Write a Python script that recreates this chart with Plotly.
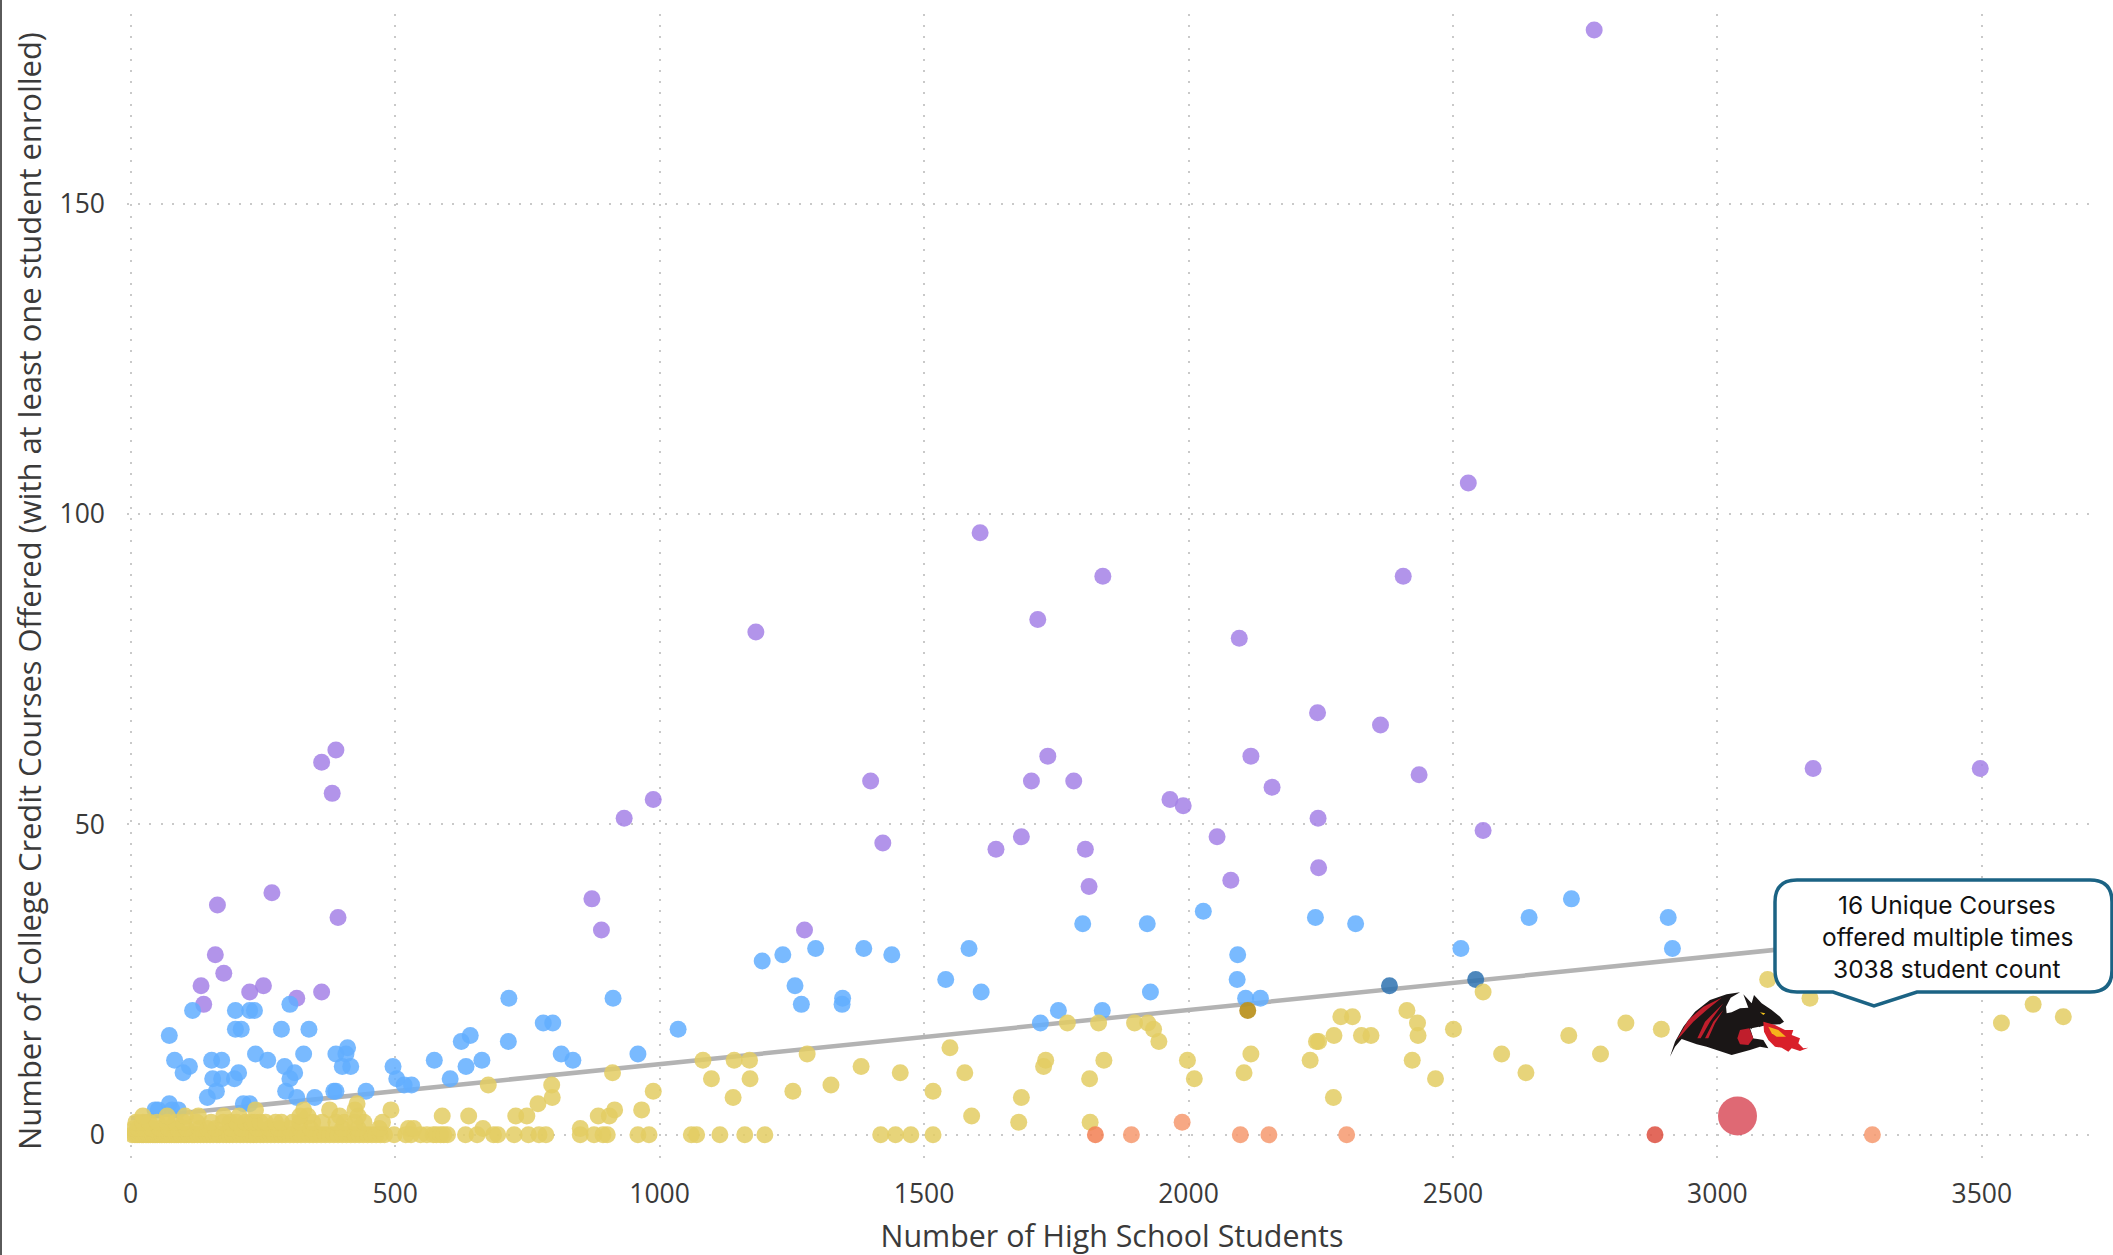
import plotly.graph_objects as go

# ---------- data ----------
purple_x = [2767,2529,1606,2406,1838,1715,1182,2096,2244,2363,1734,2118,388,361,381,3181,3497,933,988,1399,1703,1783,2436,2158,1965,1990,2245,1422,2557,2054,1684,1636,1805,2246,2080,1812,872,890,1274,164,267,392,160,176,133,251,225,361,314,138]
purple_y = [178,105,97,90,90,83,81,80,68,66,61,61,62,60,55,59,59,51,54,57,57,57,58,56,54,53,51,47,49,48,48,46,46,43,41,40,38,33,33,37,39,35,29,26,24,24,23,23,22,21]

blue_x = [117,198,225,234,301,73,198,209,285,337,83,111,99,153,172,236,259,291,310,301,327,388,410,407,400,416,204,196,155,172,162,145,293,314,348,384,388,445,213,225,46,52,73,78,90,496,503,517,531,574,604,625,642,634,664,715,714,780,798,814,836,912,959,1035,1194,1233,1295,1256,1268,1346,1345,1386,1439,1541,1585,1608,1720,1754,1837,1800,1922,1928,2028,2240,2316,2093,2092,2108,2136,2515,2644,2724,2907,2915]
blue_y = [20,20,20,20,21,16,17,17,17,17,12,11,10,12,12,13,12,11,10,9,13,13,14,13,11,11,10,9,9,9,7,6,7,6,6,7,7,7,5,5,4,4,5,4,4,11,9,8,8,12,9,15,16,11,12,22,15,18,18,13,12,22,13,17,28,29,30,24,21,22,21,30,29,25,30,23,18,20,20,34,34,23,36,35,34,29,25,22,22,30,35,38,35,30]

dark_blue_x = [2380,2543]
dark_blue_y = [24,25]
dark_gold_x = [2112]
dark_gold_y = [20]

yellow_x_row0 = [3,8,12,16,21,24,29,33,37,42,46,50,55,59,64,68,73,77,82,86,90,95,101,105,110,116,120,126,132,138,144,150,156,163,168,175,181,187,193,200,207,213,220,226,232,238,245,251,258,265,272,279,286,293,301,308,315,322,330,338,345,352,360,368,376,384,392,400,408,416,424,432,440,448,456,464,472,480,498,520,530,548,560,572,578,586,592,599,633,655,686,694,725,752,772,785,850,876,893,901,959,980,1060,1070,1161,1199,1114,1418,1446,1475,1517]
yellow_x_row1 = [6,14,25,40,55,72,88,105,130,145,160,190,210,240,262,280,300,320,340,400,430,470,525,535,666,850]
yellow_x_row2 = [10,23,35,50,69,85,100,125,152,175,188,200,217,228,235,245,255,274,285,306,320,344,362,388,404,424,441,476,1679,1814]
yellow_x_row3 = [103,128,335,589,639,728,749,884,905,1590,320,395,23,69,176,205,430]
yellow_x_upper = [236,327,376,424,492,915,966,428,770,797,796,676,988,911,1082,1098,1141,1170,1171,1139,1252,1279,1324,1381,1455,1517,1549,1577,1684,1730,1726,1771,1830,1840,1813,1898,1923,1934,1944,1998,2011,2118,2105,2230,2242,2246,2275,2274,2288,2310,2327,2345,2413,2433,2434,2423,2467,2501,2557,2592,2638,2719,2779,2827,2894,3095,3175,3537,3597,3654]
yellow_y_upper = [4,4,4,4,4,4,4,5,5,6,8,8,7,10,12,9,12,12,9,6,7,13,8,11,10,7,14,10,6,12,11,18,18,12,9,18,18,17,15,12,9,13,10,12,15,15,16,6,19,19,16,16,20,18,16,12,9,17,23,13,10,16,13,18,17,25,22,18,21,19]
yellow_x = yellow_x_row0 + yellow_x_row1 + yellow_x_row2 + yellow_x_row3 + yellow_x_upper
yellow_y = [0]*len(yellow_x_row0) + [1]*len(yellow_x_row1) + [2]*len(yellow_x_row2) + [3]*len(yellow_x_row3) + yellow_y_upper

orange_x = [1892,1988,2098,2152,2299,3293]
orange_y = [0,2,0,0,0,0]
deep_orange_x = [1824]
deep_orange_y = [0]
red_x = [2882]
red_y = [0]
highlight_x = [3038]
highlight_y = [3]

trend_x = [0,3650]
trend_y = [2.65,34.5]

x_ticks = [0,500,1000,1500,2000,2500,3000,3500]
y_ticks = [0,50,100,150]
x_title = "Number of High School Students"
y_title = "Number of College Credit Courses Offered (with at least one student enrolled)"
callout_lines = ["16 Unique Courses","offered multiple times","3038 student count"]

# ---------- layout helpers ----------
W,H = 2113,1255
L,R,T,B = 127,2097,14,1168
def px(x): return (x-L)/(R-L)
def py(y): return (B-y)/(B-T)
def path(pts, close=True):
    s = "M"+" L".join(f"{px(a):.5f},{py(b):.5f}" for a,b in pts)
    return s+(" Z" if close else "")
def logo(pts):  # logo crop coordinates to page pixels
    return path([(1660+a/3,985+b/3) for a,b in pts])

fig = go.Figure()
fig.add_trace(go.Scatter(x=trend_x,y=trend_y,mode="lines",line=dict(color="#b3b3b3",width=4.5),showlegend=False))
def dots(x,y,color,size=17,op=0.85):
    fig.add_trace(go.Scatter(x=x,y=y,mode="markers",showlegend=False,
        marker=dict(color=color,size=size,opacity=op,line=dict(width=0))))
dots(purple_x,purple_y,"#A581E6")
dots(blue_x,blue_y,"#62AEFF")
dots(dark_blue_x,dark_blue_y,"#2E72B0")
dots(yellow_x,yellow_y,"#E3CD63")
dots(dark_gold_x,dark_gold_y,"#BC9422",op=0.95)
dots(orange_x,orange_y,"#F6996F")
dots(deep_orange_x,deep_orange_y,"#F27F52")
dots(red_x,red_y,"#DD4F3F")
dots(highlight_x,highlight_y,"#D94F5C",size=39)

shapes = []
def s(pathstr,fill,line=None,w=0):
    shapes.append(dict(type="path",xref="paper",yref="paper",path=pathstr,fillcolor=fill,
                       line=dict(color=line or fill,width=w),layer="above"))
# callout box
cl,cr,ct,cb,r = 1775,2112,880,992,22
box = (f"M{px(cl+r):.5f},{py(ct):.5f} L{px(cr-r):.5f},{py(ct):.5f} Q{px(cr):.5f},{py(ct):.5f} {px(cr):.5f},{py(ct+r):.5f} "
       f"L{px(cr):.5f},{py(cb-r):.5f} Q{px(cr):.5f},{py(cb):.5f} {px(cr-r):.5f},{py(cb):.5f} "
       f"L{px(1917):.5f},{py(cb):.5f} L{px(1874):.5f},{py(1006):.5f} L{px(1833):.5f},{py(cb):.5f} "
       f"L{px(cl+r):.5f},{py(cb):.5f} Q{px(cl):.5f},{py(cb):.5f} {px(cl):.5f},{py(cb-r):.5f} "
       f"L{px(cl):.5f},{py(ct+r):.5f} Q{px(cl):.5f},{py(ct):.5f} {px(cl+r):.5f},{py(ct):.5f} Z")
s(box,"#ffffff","#1B6384",3.5)
# dragon logo
s(logo([(30,215),(45,170),(70,125),(105,80),(150,45),(200,28),(240,22),(212,38),(198,65),(200,85),(215,82),(240,70),(265,68),(250,28),(275,55),(282,30),(305,55),(335,75),(360,95),(372,110),(360,118),(320,120),(300,125),(280,135),(270,130),(280,160),(310,165),(325,190),(300,185),(270,195),(215,210),(140,185),(110,178),(65,162),(45,185)]),"#1a1616")
s(logo([(275,130),(297,125),(303,160),(280,160)]),"#ffffff")
s(logo([(232,160),(240,135),(268,130),(280,160),(265,180),(240,178)]),"#C01E2C")
s(logo([(50,165),(85,105),(130,65),(185,38),(140,75),(100,110),(60,155)]),"#C01E2C")
s(logo([(112,160),(135,110),(190,55),(150,110),(122,160)]),"#C01E2C")
s(logo([(135,160),(160,110),(190,75),(165,115),(145,160)]),"#C01E2C")
s(logo([(310,110),(345,120),(375,135),(400,135),(395,150),(420,160),(415,175),(430,190),(445,188),(420,198),(395,190),(385,200),(365,188),(345,185),(325,165),(312,140)]),"#D9202A")
s(logo([(325,125),(355,135),(378,155),(350,155),(335,145)]),"#F6B21B")
s(logo([(300,82),(316,85),(310,90)]),"#F2C21B")
# left edge line of the screenshot
shapes.append(dict(type="line",xref="paper",yref="paper",x0=px(1),x1=px(1),y0=py(0),y1=py(H),line=dict(color="#5a5a5a",width=2),layer="above"))

ann = []
for txt,yc in zip(callout_lines,[905,937,969]):
    ann.append(dict(text=txt,xref="paper",yref="paper",x=px(1947),y=py(yc),xanchor="center",yanchor="middle",
                    showarrow=False,font=dict(family="Inter",size=24.5,color="#111111")))

grid = dict(showgrid=True,gridcolor="#c9c9c9",gridwidth=2,griddash="2px,9.2px",zeroline=False,
            showline=False,ticks="",tickfont=dict(family="Open Sans",size=26.5,color="#3a3a3a"))
x0 = (L-130.7)/0.5289; x1 = (R-130.7)/0.5289
y0 = (1134.7-B)/6.206; y1 = (1134.7-T)/6.206
fig.update_layout(
    width=W,height=H+5,margin=dict(l=L,r=W-R,t=T,b=H-B,pad=0),autosize=False,
    paper_bgcolor="white",plot_bgcolor="white",showlegend=False,shapes=shapes,annotations=ann,
    xaxis=dict(range=[x0,x1],tickvals=x_ticks,title=dict(text=x_title,font=dict(family="Open Sans",size=30.4,color="#3a3a3a"),standoff=16),ticklabelstandoff=7,**grid),
    yaxis=dict(range=[y0,y1],tickvals=y_ticks,title=dict(text=y_title,font=dict(family="Open Sans",size=30.9,color="#3a3a3a"),standoff=8),ticklabelstandoff=21,**grid),
)
fig.write_html("out.html",config=dict(responsive=False,displayModeBar=False),
               post_script="document.body.style.margin='0';")
